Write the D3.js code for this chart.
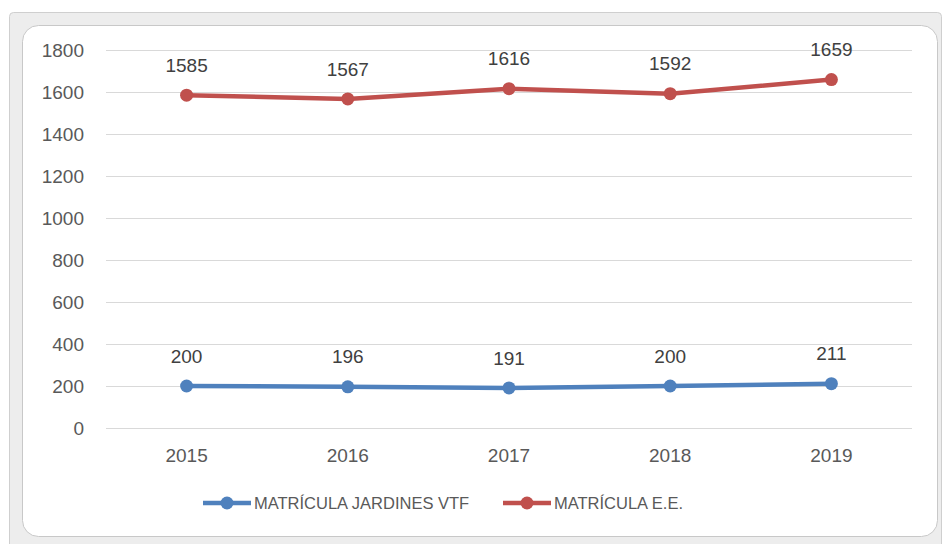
<!DOCTYPE html>
<html>
<head>
<meta charset="utf-8">
<script src="https://cdn.jsdelivr.net/npm/d3@7"></script>
<style>
  body { margin: 0; background: #ffffff; }
  svg text { font-family: "Liberation Sans", Arial, sans-serif; fill: #595959; }
</style>
</head>
<body>
<div id="chart"></div>
<script>
/* Data */
var years = ["2015", "2016", "2017", "2018", "2019"];
var jardines = [200, 196, 191, 200, 211];
var especial = [1585, 1567, 1616, 1592, 1659];
var yTicks = [0, 200, 400, 600, 800, 1000, 1200, 1400, 1600, 1800];
var seriesNames = ["MATRÍCULA JARDINES VTF", "MATRÍCULA E.E."];
var seriesColors = ["#4f81bd", "#c0504d"];

var width = 945, height = 544;
var plot = {left: 106, right: 912, top: 50, bottom: 428};

var svg = d3.select('#chart')
    .append('svg')
    .attr('width', width)
    .attr('height', height);

/* frame of the embedded chart */
svg.append('rect')
    .attr('x', 9.5).attr('y', 12.5)
    .attr('width', 932).attr('height', 540)
    .attr('rx', 4)
    .style('fill', '#ededed')
    .style('stroke', '#cfcfcf');
svg.append('rect')
    .attr('x', 22.5).attr('y', 25.5)
    .attr('width', 915).attr('height', 511)
    .attr('rx', 16)
    .style('fill', '#ffffff')
    .style('stroke', '#c8c8c8');

var x = d3.scaleBand()
    .domain(years)
    .range([plot.left, plot.right]);

var y = d3.scaleLinear()
    .domain([0, 1800])
    .range([plot.bottom, plot.top]);

// gridlines
svg.selectAll('line.grid')
    .data(yTicks)
    .enter()
    .append('line')
    .attr('class', 'grid')
    .attr('x1', plot.left)
    .attr('x2', plot.right)
    .attr('y1', function(d){ return Math.round(y(d)) + 0.5; })
    .attr('y2', function(d){ return Math.round(y(d)) + 0.5; })
    .style('stroke', '#d9d9d9')
    .style('stroke-width', 1.2);

// y axis labels
svg.selectAll('text.ytick')
    .data(yTicks)
    .enter()
    .append('text')
    .attr('class', 'ytick')
    .attr('x', 84)
    .attr('y', function(d){ return y(d); })
    .attr('dy', '0.35em')
    .attr('text-anchor', 'end')
    .style('font-size', '19px')
    .text(function(d){ return d; });

// x axis labels
svg.selectAll('text.xtick')
    .data(years)
    .enter()
    .append('text')
    .attr('class', 'xtick')
    .attr('x', function(d){ return x(d) + x.bandwidth() / 2; })
    .attr('y', 455)
    .attr('dy', '0.35em')
    .attr('text-anchor', 'middle')
    .style('font-size', '19px')
    .text(function(d){ return d; });

var line = d3.line()
    .x(function(d, i){ return x(years[i]) + x.bandwidth() / 2; })
    .y(function(d){ return y(d); });

[jardines, especial].forEach(function(values, s){
    var g = svg.append('g');
    g.append('path')
	.datum(values)
	.attr('d', line)
	.style('fill', 'none')
	.style('stroke', seriesColors[s])
	.style('stroke-width', 4.5)
	.style('stroke-linejoin', 'round');
    g.selectAll('circle')
	.data(values)
	.enter()
	.append('circle')
	.attr('cx', function(d, i){ return x(years[i]) + x.bandwidth() / 2; })
	.attr('cy', function(d){ return y(d); })
	.attr('r', 6.5)
	.style('fill', seriesColors[s]);
    g.selectAll('text')
	.data(values)
	.enter()
	.append('text')
	.attr('x', function(d, i){ return x(years[i]) + x.bandwidth() / 2; })
	.attr('y', function(d){ return y(d) - 30; })
	.attr('dy', '0.35em')
	.attr('text-anchor', 'middle')
	.style('font-size', '19px')
	.style('fill', '#404040')
	.text(function(d){ return d; });
});

// legend
var legendX = [203, 503];
seriesNames.forEach(function(name, s){
    var lg = svg.append('g')
	.attr('transform', 'translate(' + legendX[s] + ',503)');
    lg.append('line')
	.attr('x1', 0).attr('x2', 48)
	.style('stroke', seriesColors[s])
	.style('stroke-width', 4.5);
    lg.append('circle')
	.attr('cx', 24).attr('r', 6.5)
	.style('fill', seriesColors[s]);
    lg.append('text')
	.attr('x', 51)
	.attr('dy', '0.35em')
	.style('font-size', '16.5px')
	.text(name);
});
</script>
</body>
</html>
